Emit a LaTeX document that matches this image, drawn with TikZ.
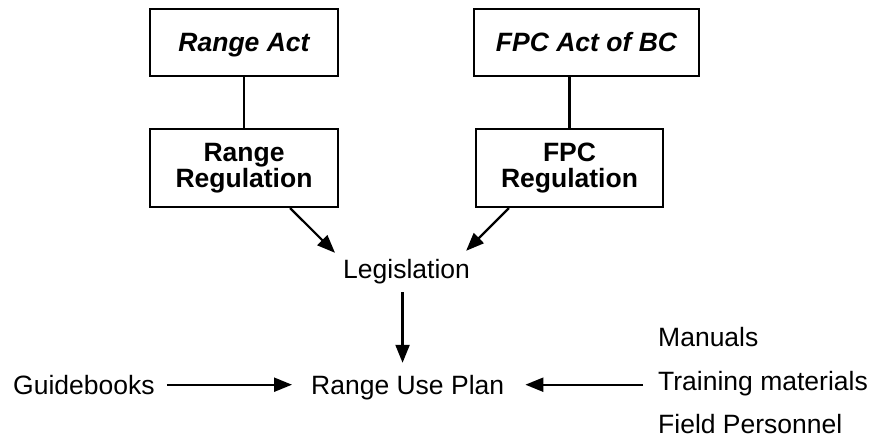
\documentclass[tikz,border=0pt]{standalone}
\usepackage{fontspec}
\setmainfont{Liberation Sans}
\usetikzlibrary{arrows.meta,calc}
\begin{document}
\begin{tikzpicture}[x=1pt,y=-1pt,
  every node/.style={font=\fontsize{26.5}{28}\selectfont},
  actbox/.style={draw,line width=2.2pt,minimum height=67pt,inner sep=0pt,
    font=\fontsize{26.5}{28}\selectfont\bfseries\itshape,text height=18.6pt,text depth=0pt},
  regbox/.style={draw,line width=2.2pt,minimum height=78pt,inner sep=0pt,align=center,
    font=\fontsize{26.5}{28}\selectfont\bfseries},
  txt/.style={anchor=base west,inner sep=0pt,text height=18.6pt,text depth=0pt},
  conn/.style={line width=2.2pt},
  arr/.style={line width=2.2pt,-{Triangle[length=18pt,width=14pt]}}]
\useasboundingbox (0,0) rectangle (872,445);
\node[actbox,minimum width=188pt] (act1) at (244,42.5) {Range Act};
\node[actbox,minimum width=225pt] (act2) at (586.5,42.5) {FPC Act of BC};
\node[regbox,minimum width=188pt] (reg1) at (244,168) {Range\\[-2pt]Regulation};
\node[regbox,minimum width=187pt] (reg2) at (569.5,168) {FPC\\[-2pt]Regulation};
\node[txt] (leg) at (343,278) {Legislation};
\node[txt] (rup) at (311,394) {Range Use Plan};
\node[txt] (gb) at (13,394) {Guidebooks};
\node[txt] (man) at (658,346) {Manuals};
\node[txt] (tm) at (658,390) {Training materials};
\node[txt] (fp) at (658,433) {Field Personnel};
\draw[conn] (act1.south) -- (reg1.north);
\draw[conn] (reg2.north) -- (reg2.north |- act2.south);
\draw[arr] ($(reg1.south east)+(-49,0)$) -- ($(leg.north west)+(-8,-6.4)$);
\draw[arr] ($(reg2.south west)+(34,0)$) -- ($(leg.north east)+(-4,-8.4)$);
\coordinate (d1) at ($(leg.south)+(-4,14)$);
\coordinate (d2) at ($(rup.north)+(0,-12.4)$);
\draw[arr] (d1) -- (d1 |- d2);
\draw[arr] ($(gb.east)+(12,0)$) -- ($(rup.west)+(-19,0)$);
\coordinate (t1) at ($(tm.west)+(-15,0)$);
\draw[arr] (t1 |- rup.east) -- ($(rup.east)+(21,0)$);
\end{tikzpicture}
\end{document}
